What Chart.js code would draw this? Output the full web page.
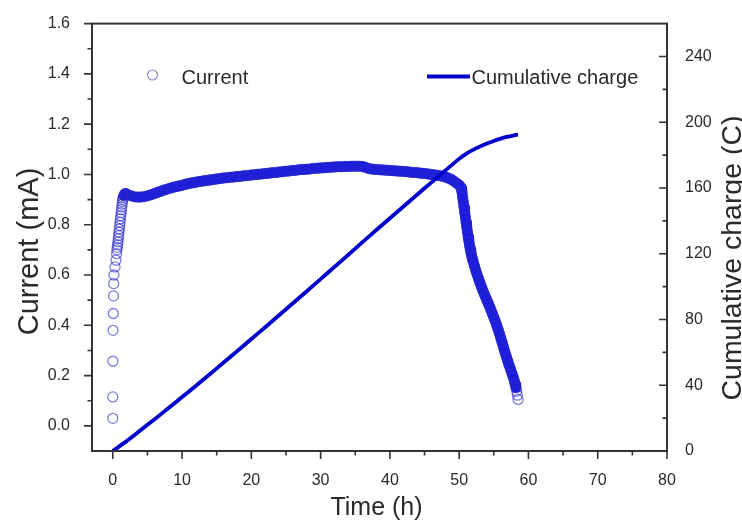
<!DOCTYPE html>
<html>
<head>
<meta charset="utf-8">
<title>Current and cumulative charge</title>
<script src="https://cdn.jsdelivr.net/npm/chart.js@4.4.1/dist/chart.umd.min.js"></script>
<style>
  html, body { margin: 0; padding: 0; background: #fff; }
  #wrap { width: 742px; height: 521px; }
</style>
</head>
<body>
<div id="wrap"><canvas id="chart" width="742" height="521"></canvas></div>
<script>
// Values
// Current (mA) vs time (h), in three pieces: start-up, plateau, decay
const riseTime = [0.0, 0.0, 0.02, 0.04, 0.07, 0.1, 0.13, 0.17, 0.32, 0.46, 0.55, 0.6, 0.65, 0.7, 0.75, 0.8, 0.85, 0.9, 0.95, 1.0,
    1.05, 1.1, 1.15, 1.2, 1.25, 1.3, 1.35, 1.4, 1.45, 1.5, 1.6, 1.7, 1.8, 1.9];
const riseCurrent = [0.03, 0.115, 0.257, 0.38, 0.447, 0.517, 0.566, 0.6, 0.632, 0.659, 0.685, 0.70, 0.71, 0.72, 0.732, 0.745, 0.757, 0.77, 0.783, 0.797,
    0.81, 0.823, 0.836, 0.848, 0.86, 0.871, 0.882, 0.892, 0.901, 0.909, 0.916, 0.921, 0.924, 0.924];

const plateauTime = [2.0, 2.5, 3.0, 3.5, 4.0, 4.5, 5.0, 5.5, 6.0, 6.5, 7.0, 7.5, 8.0, 8.5, 9.0, 9.5, 10.0, 10.5, 11.0, 11.5,
    12.0, 12.5, 13.0, 13.5, 14.0, 14.5, 15.0, 15.5, 16.0, 16.5, 17.0, 17.5, 18.0, 18.5, 19.0, 19.5, 20.0, 20.5, 21.0, 21.5,
    22.0, 22.5, 23.0, 23.5, 24.0, 24.5, 25.0, 25.5, 26.0, 26.5, 27.0, 27.5, 28.0, 28.5, 29.0, 29.5, 30.0, 30.5, 31.0, 31.5,
    32.0, 32.5, 33.0, 33.5, 34.0, 34.5, 35.0, 35.5, 36.0, 36.5, 37.0, 37.5, 38.0, 38.5, 39.0, 39.5, 40.0, 40.5, 41.0, 41.5,
    42.0, 42.5, 43.0, 43.5, 44.0, 44.5, 45.0, 45.5, 46.0, 46.5, 47.0, 47.5, 48.0, 48.5, 49.0, 49.5, 50.0, 50.2];
const plateauCurrent = [0.922, 0.916, 0.912, 0.910, 0.910, 0.912, 0.915, 0.919, 0.924, 0.929, 0.934, 0.939, 0.943, 0.947, 0.951, 0.954, 0.957, 0.961, 0.964, 0.967,
    0.969, 0.972, 0.974, 0.976, 0.978, 0.980, 0.982, 0.984, 0.986, 0.987, 0.989, 0.990, 0.992, 0.993, 0.995, 0.996, 0.998, 0.999, 1.001, 1.002,
    1.004, 1.005, 1.007, 1.008, 1.010, 1.011, 1.013, 1.014, 1.016, 1.017, 1.019, 1.020, 1.021, 1.022, 1.024, 1.025, 1.026, 1.027, 1.028, 1.029,
    1.030, 1.031, 1.031, 1.032, 1.032, 1.033, 1.033, 1.033, 1.032, 1.028, 1.023, 1.021, 1.020, 1.019, 1.018, 1.017, 1.016, 1.015, 1.014, 1.013,
    1.012, 1.011, 1.009, 1.008, 1.007, 1.005, 1.004, 1.002, 1.000, 0.998, 0.996, 0.993, 0.990, 0.985, 0.978, 0.968, 0.958, 0.950];

const dropTime = [50.3, 50.4, 50.5, 50.6, 50.7, 50.8, 50.9, 51.0, 51.1, 51.2, 51.3, 51.4, 51.5, 51.6, 51.7, 51.8, 51.9, 52.0,
    52.2, 52.4, 52.6, 52.8, 53.0, 53.2, 53.4, 53.6, 53.8, 54.0, 54.2, 54.4, 54.6, 54.8, 55.0, 55.2, 55.4, 55.6, 55.8, 56.0,
    56.2, 56.4, 56.6, 56.8, 57.0, 57.2, 57.4, 57.6, 57.8, 58.0, 58.1, 58.2, 58.3, 58.4, 58.5];
const dropCurrent = [0.945, 0.93, 0.91, 0.89, 0.87, 0.85, 0.83, 0.81, 0.79, 0.77, 0.752, 0.735, 0.718, 0.703, 0.69, 0.677, 0.665, 0.655,
    0.636, 0.618, 0.601, 0.585, 0.569, 0.554, 0.54, 0.526, 0.513, 0.5, 0.487, 0.474, 0.46, 0.446, 0.432, 0.417, 0.401, 0.385, 0.368, 0.35,
    0.332, 0.313, 0.294, 0.276, 0.259, 0.242, 0.226, 0.21, 0.193, 0.176, 0.165, 0.152, 0.138, 0.122, 0.105];

// Cumulative charge (C) vs time (h)
const chargeTime = [0, 2, 4, 6, 8, 10, 12, 14, 16, 18, 20, 22, 24, 26, 28, 30, 32, 34, 36, 38, 40, 42, 44, 46, 48, 50,
    51, 52, 53, 54, 55, 56, 57, 58, 58.5];
const chargeValue = [0, 6, 12.6, 19.2, 26, 32.8, 39.7, 46.7, 53.8, 60.9, 68.1, 75.3, 82.6, 89.9, 97.2, 104.6, 112, 119.4, 126.9, 134.3, 141.6, 148.9, 156.2, 163.4, 170.6, 177.7,
    180.8, 183.2, 185.2, 187.0, 188.6, 190.0, 191.2, 192.1, 192.5];

// Axis ticks
const timeTicks = [0, 10, 20, 30, 40, 50, 60, 70, 80];
const timeMinor = [5, 15, 25, 35, 45, 55, 65, 75];
const currentTicks = [0.0, 0.2, 0.4, 0.6, 0.8, 1.0, 1.2, 1.4, 1.6];
const currentMinor = [0.1, 0.3, 0.5, 0.7, 0.9, 1.1, 1.3, 1.5];
const chargeTicks = [0, 40, 80, 120, 160, 200, 240];
const chargeMinor = [20, 60, 100, 140, 180, 220];

const FONT = "'Liberation Sans', Arial, Helvetica, sans-serif";
const axisColor = '#333333';
const textColor = '#2a2a2a';
const lineBlue = '#0000cc';
const markerBlue = 'rgba(40, 40, 200, 0.6)';
const bandBlue = 'rgb(26, 26, 228)';

function toPoints(xs, ys) {
    return xs.map((x, i) => ({ x: x, y: ys[i] }));
}

const currentPoints = toPoints(riseTime, riseCurrent)
    .concat(toPoints(plateauTime, plateauCurrent))
    .concat(toPoints(dropTime, dropCurrent));
// where the markers sit so close they merge into a solid band
const bandPoints = currentPoints.filter(p => p.x >= 1.6 && p.x <= 58.2);
const chargePoints = toPoints(chargeTime, chargeValue);

function setTicks(values) {
    return scale => { scale.ticks = values.map(v => ({ value: v })); };
}

// frame, ticks (major + minor), axis titles and legend
const decorPlugin = {
    id: 'decor',
    afterDraw(chart) {
        const { ctx, chartArea: a, scales } = chart;
        ctx.save();

        // frame
        ctx.strokeStyle = axisColor;
        ctx.lineWidth = 2;
        ctx.strokeRect(a.left, a.top, a.right - a.left, a.bottom - a.top);

        // tick marks
        ctx.lineWidth = 1.6;
        ctx.beginPath();
        timeTicks.forEach(v => {
            const px = scales.x.getPixelForValue(v);
            ctx.moveTo(px, a.bottom); ctx.lineTo(px, a.bottom + 8);
        });
        timeMinor.forEach(v => {
            const px = scales.x.getPixelForValue(v);
            ctx.moveTo(px, a.bottom); ctx.lineTo(px, a.bottom + 4.5);
        });
        currentTicks.forEach(v => {
            const py = scales.y.getPixelForValue(v);
            ctx.moveTo(a.left, py); ctx.lineTo(a.left - 8, py);
        });
        currentMinor.forEach(v => {
            const py = scales.y.getPixelForValue(v);
            ctx.moveTo(a.left, py); ctx.lineTo(a.left - 4.5, py);
        });
        chargeTicks.forEach(v => {
            const py = scales.y1.getPixelForValue(v);
            ctx.moveTo(a.right, py); ctx.lineTo(a.right - 8, py);
        });
        chargeMinor.forEach(v => {
            const py = scales.y1.getPixelForValue(v);
            ctx.moveTo(a.right, py); ctx.lineTo(a.right - 4.5, py);
        });
        ctx.stroke();

        // axis titles
        ctx.fillStyle = textColor;
        ctx.textBaseline = 'alphabetic';
        ctx.textAlign = 'center';
        ctx.font = '25px ' + FONT;
        ctx.fillText('Time (h)', (a.left + a.right) / 2 - 3, 515);

        ctx.save();
        ctx.font = '29px ' + FONT;
        ctx.translate(37.5, 251.5);
        ctx.rotate(-Math.PI / 2);
        ctx.fillText('Current (mA)', 0, 0);
        ctx.restore();

        ctx.save();
        ctx.font = '28.5px ' + FONT;
        ctx.translate(741, 258);
        ctx.rotate(-Math.PI / 2);
        ctx.fillText('Cumulative charge (C)', 0, 0);
        ctx.restore();

        // legend
        ctx.font = '20px ' + FONT;
        ctx.textAlign = 'left';
        ctx.strokeStyle = 'rgba(60, 60, 170, 0.6)';
        ctx.lineWidth = 1.2;
        ctx.beginPath();
        ctx.arc(152.5, 75, 5, 0, Math.PI * 2);
        ctx.stroke();
        ctx.fillText('Current', 181.5, 83.5);

        ctx.strokeStyle = lineBlue;
        ctx.lineWidth = 3.8;
        ctx.beginPath();
        ctx.moveTo(427, 76.5); ctx.lineTo(470, 76.5);
        ctx.stroke();
        ctx.fillText('Cumulative charge', 471.5, 84);

        ctx.restore();
    }
};

new Chart(document.getElementById('chart'), {
    type: 'scatter',
    data: {
        datasets: [
            {
                label: 'Cumulative charge',
                data: chargePoints,
                yAxisID: 'y1',
                showLine: true,
                borderColor: lineBlue,
                borderWidth: 3.8,
                pointRadius: 0,
                tension: 0.2
            },
            {
                label: 'Current',
                data: currentPoints,
                yAxisID: 'y',
                pointStyle: 'circle',
                pointRadius: 5,
                pointBorderWidth: 1.3,
                pointBorderColor: markerBlue,
                pointBackgroundColor: 'rgba(0,0,0,0)'
            },
            {
                label: 'Current band',
                data: bandPoints,
                yAxisID: 'y',
                showLine: true,
                borderColor: bandBlue,
                borderWidth: 10.5,
                borderCapStyle: 'round',
                borderJoinStyle: 'round',
                pointRadius: 0
            }
        ]
    },
    options: {
        responsive: false,
        animation: false,
        layout: { padding: { top: 23, left: 0, right: 0, bottom: 0 } },
        plugins: {
            legend: { display: false },
            tooltip: { enabled: false }
        },
        scales: {
            x: {
                type: 'linear',
                position: 'bottom',
                min: -3,
                max: 80,
                grid: { display: false },
                border: { display: false },
                afterBuildTicks: setTicks(timeTicks),
                afterFit: s => { s.height = 70; },
                ticks: {
                    padding: 12,
                    color: textColor,
                    font: { family: FONT, size: 16 },
                    callback: v => String(v)
                }
            },
            y: {
                type: 'linear',
                position: 'left',
                min: -0.1,
                max: 1.6,
                grid: { display: false },
                border: { display: false },
                afterBuildTicks: setTicks(currentTicks),
                afterFit: s => { s.width = 92; },
                ticks: {
                    padding: 14,
                    color: textColor,
                    font: { family: FONT, size: 16 },
                    callback: v => v.toFixed(1)
                }
            },
            y1: {
                type: 'linear',
                position: 'right',
                min: 0,
                max: 260,
                grid: { display: false },
                border: { display: false },
                afterBuildTicks: setTicks(chargeTicks),
                afterFit: s => { s.width = 75; },
                ticks: {
                    padding: 10,
                    color: textColor,
                    font: { family: FONT, size: 16 },
                    callback: v => String(v)
                }
            }
        }
    },
    plugins: [decorPlugin]
});
</script>
</body>
</html>
